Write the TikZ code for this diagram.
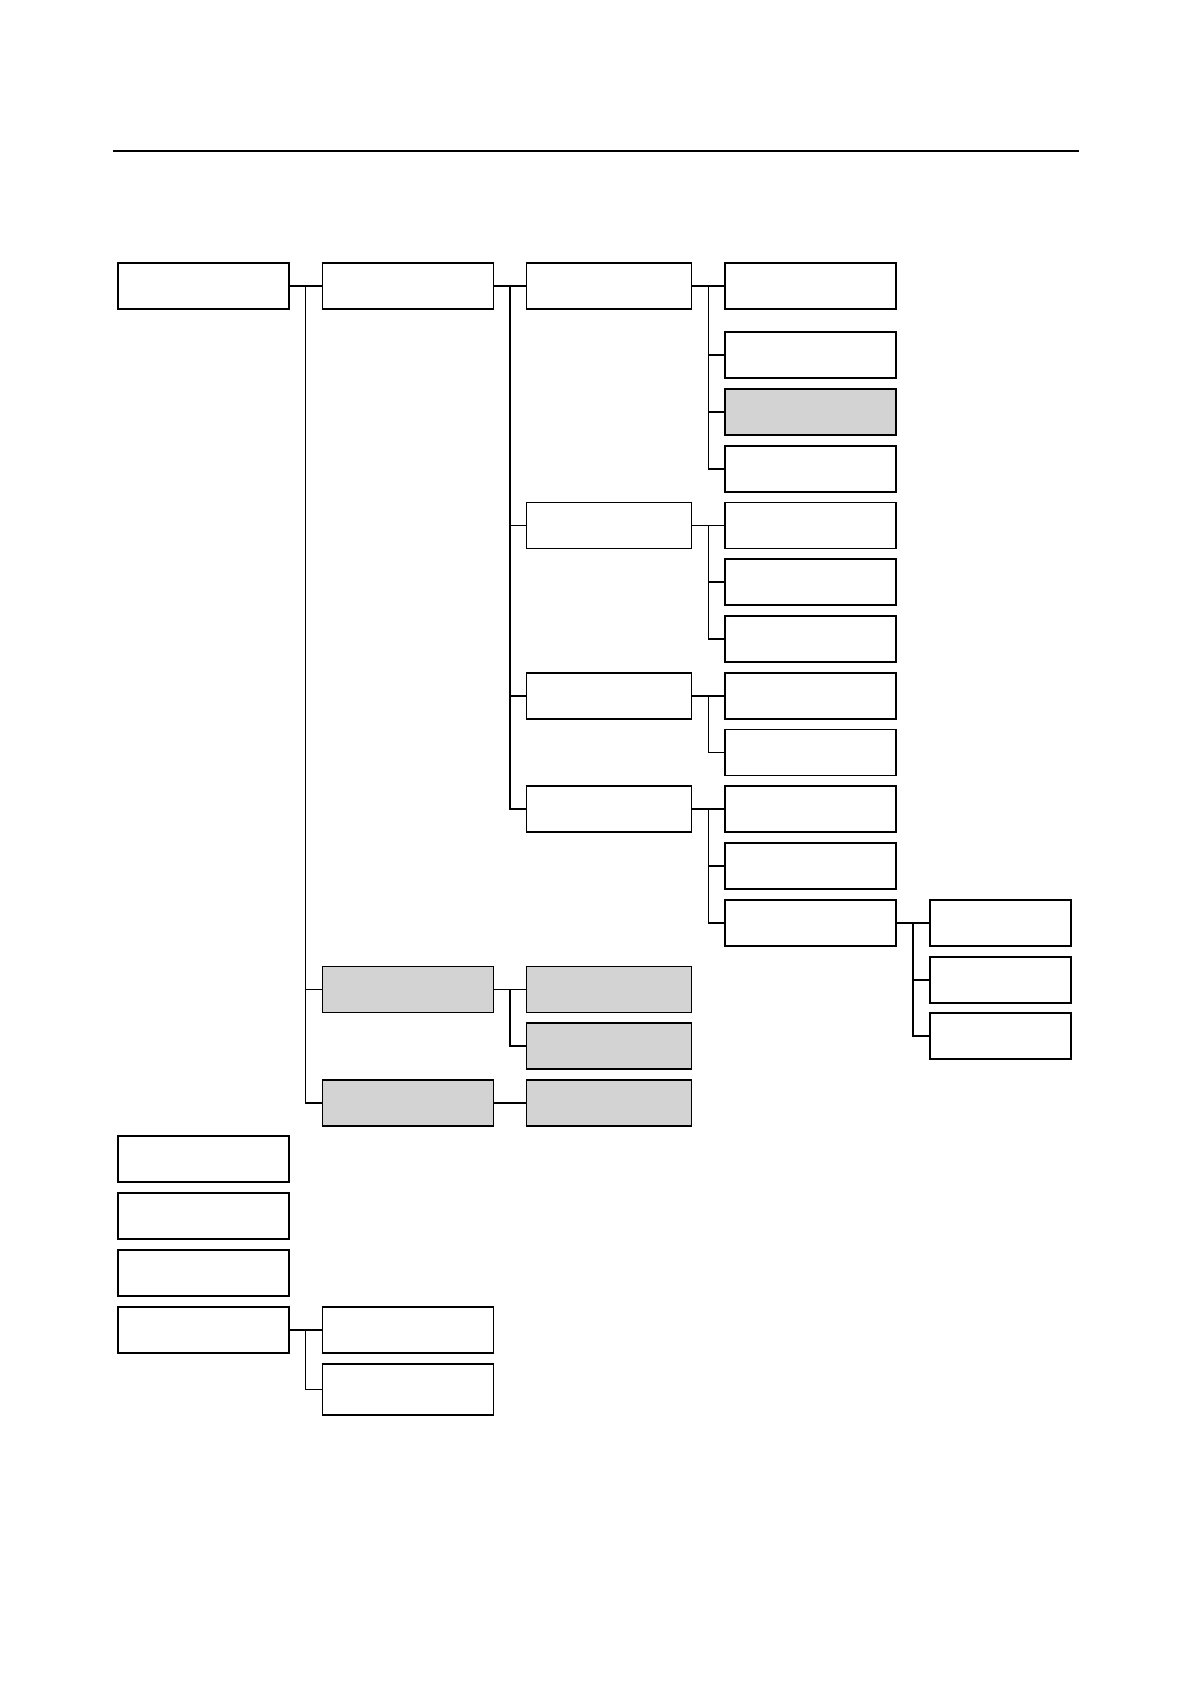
\documentclass[tikz,border=0pt]{standalone}
\usetikzlibrary{calc}

\definecolor{boxgray}{RGB}{211,211,211}
\tikzset{
    box/.style={draw, line width=0.9pt, minimum width=85.5pt, minimum height=23pt, inner sep=0pt, outer sep=0pt, anchor=west},
    greybox/.style={box, fill=boxgray},
    narrow/.style={minimum width=82.5pt},
    small/.style={minimum width=70.5pt},
    link/.style={line width=0.6pt},
}

\begin{document}
\begin{tikzpicture}[x=0.5pt,y=-0.5pt]
    \useasboundingbox (0,0) rectangle (1192,1684);
    \draw[line width=1.2pt] (113,151) -- (1079,151);

    % first column
    \node[box] (r1) at (118,286) {};
    \node[box] (r2) at (118,1159) {};
    \node[box] (r3) at (118,1216) {};
    \node[box] (r4) at (118,1273) {};
    \node[box] (r5) at (118,1330) {};

    % second column
    \node[box] (a) at (322.5,286) {};
    \node[greybox] (b) at (322.5,989.5) {};
    \node[greybox] (c) at (322.5,1103) {};
    \node[box] (r51) at (322.5,1330) {};
    \node[box, minimum height=25.5pt] (r52) at (322.5,1389.5) {};

    % third column
    \node[box, narrow] (a1) at (526.5,286) {};
    \node[box, narrow] (a2) at (526.5,525.5) {};
    \node[box, narrow] (a3) at (526.5,696) {};
    \node[box, narrow] (a4) at (526.5,809) {};
    \node[greybox, narrow] (b1) at (526.5,989.5) {};
    \node[greybox, narrow] (b2) at (526.5,1046) {};
    \node[greybox, narrow] (c1) at (526.5,1103) {};

    % fourth column
    \node[box] (a11) at (725,286) {};
    \node[box] (a12) at (725,355) {};
    \node[greybox] (a13) at (725,412) {};
    \node[box] (a14) at (725,469) {};
    \node[box] (a21) at (725,525.5) {};
    \node[box] (a22) at (725,582) {};
    \node[box] (a23) at (725,639) {};
    \node[box] (a31) at (725,696) {};
    \node[box] (a32) at (725,752.5) {};
    \node[box] (a41) at (725,809) {};
    \node[box] (a42) at (725,866) {};
    \node[box] (a43) at (725,923) {};

    % fifth column
    \node[box, small] (a431) at (930,923) {};
    \node[box, small] (a432) at (930,980) {};
    \node[box, small] (a433) at (930,1036) {};

    % connectors
    \draw[link] (r1.east) -- (a.west);
    \foreach \n in {b,c}
        \draw[link] ($(r1.east)!0.5!(a.west)$) |- (\n.west);
    \draw[link] (r5.east) -- (r51.west);
    \draw[link] ($(r5.east)!0.5!(r51.west)$) |- (r52.west);

    \draw[link] (a.east) -- (a1.west);
    \foreach \n in {a2,a3,a4}
        \draw[link] ($(a.east)!0.5!(a1.west)$) |- (\n.west);
    \draw[link] (b.east) -- (b1.west);
    \draw[link] ($(b.east)!0.5!(b1.west)$) |- (b2.west);
    \draw[link] (c.east) -- (c1.west);

    \draw[link] (a1.east) -- (a11.west);
    \foreach \n in {a12,a13,a14}
        \draw[link] ($(a1.east)!0.5!(a11.west)$) |- (\n.west);
    \draw[link] (a2.east) -- (a21.west);
    \foreach \n in {a22,a23}
        \draw[link] ($(a2.east)!0.5!(a21.west)$) |- (\n.west);
    \draw[link] (a3.east) -- (a31.west);
    \draw[link] ($(a3.east)!0.5!(a31.west)$) |- (a32.west);
    \draw[link] (a4.east) -- (a41.west);
    \foreach \n in {a42,a43}
        \draw[link] ($(a4.east)!0.5!(a41.west)$) |- (\n.west);

    \draw[link] (a43.east) -- (a431.west);
    \foreach \n in {a432,a433}
        \draw[link] ($(a43.east)!0.5!(a431.west)$) |- (\n.west);
\end{tikzpicture}
\end{document}
